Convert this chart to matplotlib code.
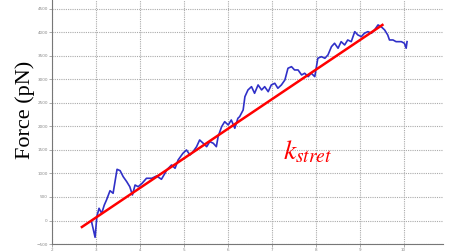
import matplotlib
matplotlib.use("Agg")
import matplotlib.pyplot as plt

# Force trace (time, force in pN)
trace_x = [2.90, 2.98, 3.02, 3.07, 3.13, 3.19, 3.24, 3.32, 3.39, 3.48, 3.55, 3.62,
           3.70, 3.77, 3.83, 3.89, 3.96, 4.05, 4.15, 4.27, 4.38, 4.49, 4.57, 4.61,
           4.72, 4.80, 4.87, 4.98, 5.06, 5.14, 5.21, 5.29, 5.36, 5.44, 5.52, 5.59,
           5.67, 5.74, 5.78, 5.86, 5.93, 6.01, 6.08, 6.16, 6.23, 6.27, 6.35, 6.39,
           6.46, 6.54, 6.61, 6.69, 6.77, 6.84, 6.92, 6.99, 7.07, 7.14, 7.22, 7.30,
           7.37, 7.45, 7.52, 7.60, 7.68, 7.75, 7.83, 7.90, 7.98, 8.05, 8.13, 8.21,
           8.28, 8.36, 8.43, 8.51, 8.58, 8.66, 8.73, 8.81, 8.89, 8.96, 9.04, 9.11,
           9.19, 9.27, 9.34, 9.42, 9.49, 9.57, 9.64, 9.68, 9.76, 9.83, 9.95, 10.02,
           10.06, 10.08]
trace_y = [-26, -357, 81, 260, 153, 330, 436, 634, 579, 1089, 1060, 932,
           826, 719, 543, 755, 719, 791, 898, 898, 947, 877, 1004, 1074,
           1181, 1111, 1287, 1430, 1500, 1394, 1464, 1570, 1713, 1643, 1570, 1677,
           1643, 1570, 1783, 1996, 2102, 2032, 2138, 1962, 2174, 2209, 2351, 2634,
           2777, 2847, 2706, 2883, 2777, 2847, 2740, 2883, 2919, 2813, 2883, 2989,
           3238, 3272, 3202, 3202, 3096, 3132, 3060, 3132, 3060, 3451, 3485, 3451,
           3521, 3698, 3770, 3664, 3804, 3734, 3840, 3804, 4017, 3947, 3911, 3983,
           4017, 3983, 4053, 4160, 4123, 4053, 3947, 3840, 3840, 3804, 3804, 3770,
           3664, 3804]

# Linear fit (stretching stiffness)
fit_x = [2.68, 9.52]
fit_y = [-138, 4160]

xticks = list(range(2, 11))
yticks = list(range(-500, 5000, 500))

plt.rcParams["mathtext.fontset"] = "stix"

fig = plt.figure(figsize=(4.5, 2.52), dpi=100)
ax = fig.add_axes([0.1156, 0.0317, 0.869, 0.9683])

ax.plot(trace_x, trace_y, color="#3030c8", lw=1.2)
ax.plot(fit_x, fit_y, color="red", lw=1.8)

ax.set_xlim(2, 10.9)
ax.set_ylim(-500, 4690)
ax.set_xticks(xticks)
ax.set_yticks(yticks)
ax.tick_params(labelsize=3, colors="#888888", length=2, width=0.5, pad=1)
ax.grid(True, color="#aaaaaa", linestyle=(0, (1, 1)), lw=0.8)
for s in ["top", "right"]:
    ax.spines[s].set_visible(False)
for s in ["left", "bottom"]:
    ax.spines[s].set_color("#777777")
    ax.spines[s].set_linewidth(0.8)

fig.text(0.055, 0.563, "Force (pN)", rotation=90, ha="center", va="center",
         family="Liberation Serif", fontsize=16)

ax.text(7.25, 1290, r"$k_{stret}$", color="red", fontsize=20, va="baseline")

fig.savefig("out.png", dpi=100)
